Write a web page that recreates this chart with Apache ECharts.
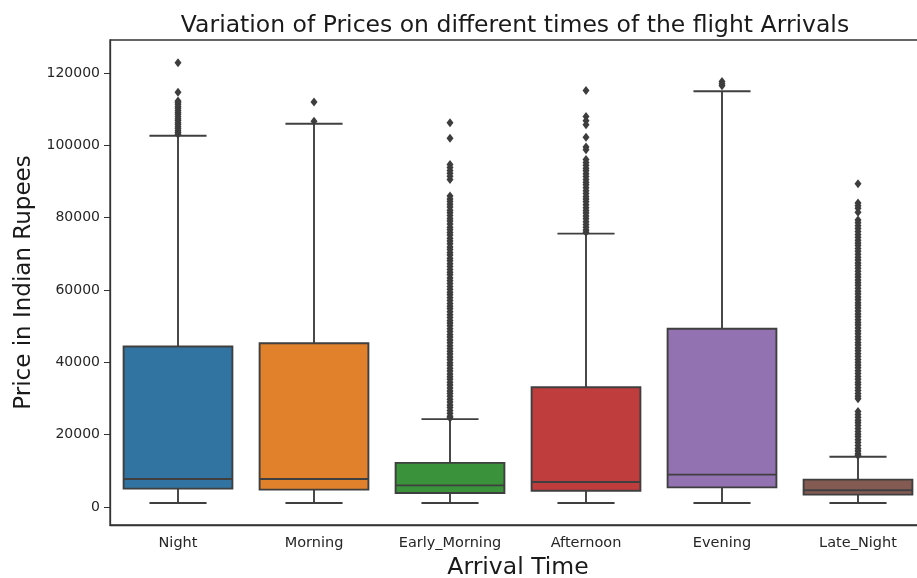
<!DOCTYPE html>
<html>
<head>
<meta charset="utf-8">
<script src="https://cdn.jsdelivr.net/npm/echarts@6/dist/echarts.min.js"></script>
<style>
  html, body { margin: 0; padding: 0; background: #fff; }
  #chart { width: 917px; height: 578px; }
</style>
</head>
<body>
<div id="chart"></div>
<script>
// Arrival-time categories
const categories = ['Night', 'Morning', 'Early_Morning', 'Afternoon', 'Evening', 'Late_Night'];

// Box statistics per category: [lower whisker, Q1, median, Q3, upper whisker]
const whiskerLow = [1105, 1105, 1105, 1105, 1105, 1105];
const quartile1  = [5060, 4780, 3870, 4500, 5420, 3400];
const medians    = [7740, 7740, 5970, 6900, 8930, 4600];
const quartile3  = [44400, 45300, 12200, 33100, 49300, 7550];
const whiskerHigh = [102700, 106000, 24300, 75600, 115000, 13900];

// Outlier prices per category
const outNight = [122900, 114700, 112300, 111900, 111400, 110800, 110300, 109700, 109100, 108600,
  108000, 107400, 106900, 106300, 105800, 105200, 104700, 104100, 103600, 103100];
const outMorning = [112000, 106700];
const outEarlyMorning = [106300, 102000, 94700, 93900, 93100, 92300, 91500, 90600,
  86000, 85200, 84500, 83700, 83000, 82100, 81400, 80600, 79800, 79100, 78300, 77400,
  76700, 75900, 75200, 74300, 73600, 72800, 71900, 71200, 70400, 69700, 68800, 68100,
  67300, 66500, 65700, 64900, 64200, 63300, 62600, 61800, 61000, 60200, 59400, 58700,
  57900, 57100, 56300, 55500, 54800, 54000, 53200, 52400, 51600, 50900, 50100, 49300,
  48500, 47700, 47000, 46200, 45400, 44600, 43800, 43100, 42300, 41500, 40700, 39900,
  39200, 38400, 37600, 36800, 36000, 35300, 34500, 33700, 32900, 32100, 31400, 30600,
  29800, 29000, 28200, 27500, 26700, 25900, 25100, 24600];
const outAfternoon = [115200, 108000, 106800, 105700, 102300, 99600, 98800,
  96100, 95300, 94500, 93700, 93000, 92200, 91400, 90600, 89800, 89100, 88300, 87500,
  86700, 85900, 85200, 84400, 83600, 82800, 82000, 81300, 80500, 79700, 78900, 78100,
  77400, 76600, 76000];
const outEvening = [117700, 117100, 116500];
const outLateNight = [89400, 84100, 83300, 82600, 81500, 79400, 78600,
  77800, 77000, 76200, 75400, 74600, 73800, 73000, 72300, 71500, 70700, 69900, 69100,
  68300, 67500, 66800, 66000, 65200, 64400, 63600, 62800, 62000, 61300, 60500, 59700,
  58900, 58100, 57300, 56500, 55800, 55000, 54200, 53400, 52600, 51800, 51000, 50300,
  49500, 48700, 47900, 47100, 46300, 45500, 44800, 44000, 43200, 42400, 41600, 40800,
  40000, 39300, 38500, 37700, 36900, 36100, 35300, 34500, 33800, 33000, 32200, 31400,
  30600, 29900, 26400, 25600, 24800, 24000, 23300, 22500, 21700, 20900, 20100, 19400,
  18600, 17800, 17000, 16200, 15500, 14700, 14200];
const outliers = [outNight, outMorning, outEarlyMorning, outAfternoon, outEvening, outLateNight];

// Y-axis tick labels
const yTicks = [0, 20000, 40000, 60000, 80000, 100000, 120000];

const boxColors = ['#3274a1', '#e1812c', '#3a923a', '#c03d3e', '#9372b2', '#845b53'];
const edgeColor = '#3f3f3f';

const boxData = categories.map((c, i) =>
  [i, whiskerLow[i], quartile1[i], medians[i], quartile3[i], whiskerHigh[i]]);

const flierData = [];
outliers.forEach((list, i) => list.forEach(v => flierData.push([i, v])));

const chart = echarts.init(document.getElementById('chart'), null, { renderer: 'canvas' });

function renderBox(params, api) {
  const idx = api.value(0);
  const band = api.size([1, 0])[0];
  const boxW = band * 0.8;
  const capW = band * 0.42;
  const pLow = api.coord([idx, api.value(1)]);
  const pQ1 = api.coord([idx, api.value(2)]);
  const pMed = api.coord([idx, api.value(3)]);
  const pQ3 = api.coord([idx, api.value(4)]);
  const pHigh = api.coord([idx, api.value(5)]);
  const cx = pQ1[0];
  const lineStyle = { stroke: edgeColor, lineWidth: 1.9, fill: null };
  return {
    type: 'group',
    children: [
      { type: 'line', shape: { x1: cx, y1: pQ3[1], x2: cx, y2: pHigh[1] }, style: lineStyle },
      { type: 'line', shape: { x1: cx, y1: pQ1[1], x2: cx, y2: pLow[1] }, style: lineStyle },
      { type: 'line', shape: { x1: cx - capW / 2, y1: pHigh[1], x2: cx + capW / 2, y2: pHigh[1] }, style: lineStyle },
      { type: 'line', shape: { x1: cx - capW / 2, y1: pLow[1], x2: cx + capW / 2, y2: pLow[1] }, style: lineStyle },
      { type: 'rect', shape: { x: cx - boxW / 2, y: pQ3[1], width: boxW, height: pQ1[1] - pQ3[1] },
        style: { fill: boxColors[idx], stroke: edgeColor, lineWidth: 1.9 } },
      { type: 'line', shape: { x1: cx - boxW / 2, y1: pMed[1], x2: cx + boxW / 2, y2: pMed[1] }, style: lineStyle }
    ]
  };
}

const font = 'DejaVu Sans';

chart.setOption({
  animation: false,
  backgroundColor: '#ffffff',
  title: {
    text: 'Variation of Prices on different times of the flight Arrivals',
    left: 510, top: 9, textAlign: 'center',
    textStyle: { fontFamily: font, fontSize: 23.5, fontWeight: 'normal', color: '#1a1a1a' }
  },
  grid: {
    left: 110, top: 40, width: 816, height: 485,
    outerBoundsMode: 'none',
    containLabel: false,
    show: true, borderColor: '#333333', borderWidth: 1.3, backgroundColor: 'transparent'
  },
  xAxis: {
    type: 'category',
    data: categories,
    boundaryGap: true,
    name: 'Arrival Time',
    nameLocation: 'middle',
    nameGap: 29,
    nameTextStyle: { fontFamily: font, fontSize: 23.5, color: '#1a1a1a' },
    axisLine: { onZero: false, lineStyle: { color: '#333333', width: 1.3 } },
    axisTick: { alignWithLabel: true, length: 6, lineStyle: { color: '#333333' } },
    axisLabel: { fontFamily: font, fontSize: 14.5, color: '#262626', margin: 11 },
    splitLine: { show: false }
  },
  yAxis: {
    type: 'value',
    min: -4993, max: 129169,
    name: 'Price in Indian Rupees',
    nameLocation: 'middle',
    nameGap: 73,
    nameRotate: 90,
    nameTextStyle: { fontFamily: font, fontSize: 23, color: '#1a1a1a' },
    axisLine: { show: true, onZero: false, lineStyle: { color: '#333333', width: 1.3 } },
    axisTick: { show: true, length: 6, customValues: yTicks, lineStyle: { color: '#333333' } },
    axisLabel: {
      fontFamily: font, fontSize: 14, color: '#262626', margin: 10,
      customValues: yTicks,
      formatter: v => String(v)
    },
    splitLine: { show: false }
  },
  series: [
    {
      type: 'custom',
      renderItem: renderBox,
      data: boxData,
      encode: { x: 0, y: [1, 2, 3, 4, 5] },
      z: 2
    },
    {
      type: 'scatter',
      data: flierData,
      symbol: 'diamond',
      symbolSize: [7, 9],
      itemStyle: { color: '#3d3d3d', opacity: 1 },
      z: 3
    }
  ]
});
</script>
</body>
</html>
